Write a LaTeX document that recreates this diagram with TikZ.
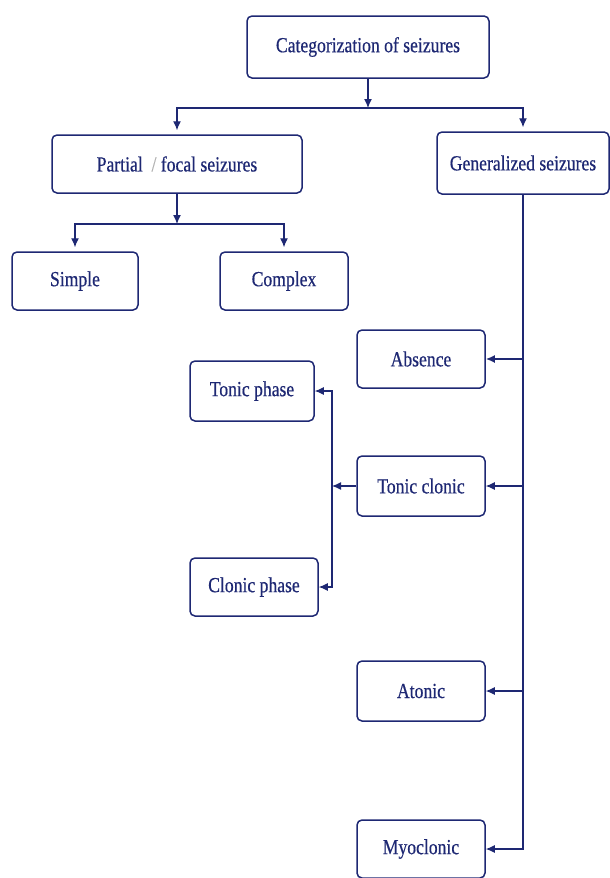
\documentclass[tikz,border=0pt]{standalone}
\usepackage{fontspec}
\setmainfont{Liberation Serif}[FakeStretch=0.82,FakeBold=0.5]
\usetikzlibrary{arrows.meta}
\definecolor{navy}{RGB}{30,40,115}

\begin{document}
\begin{tikzpicture}[x=1pt,y=-1pt,
  box/.style={draw=navy, line width=1.5pt, rounded corners=5pt, text=navy,
    font=\fontsize{21.5}{23}\selectfont, inner sep=0pt},
  arr/.style={draw=navy, line width=1.2pt, -{Latex[length=9pt,width=8pt]}}]
\useasboundingbox (0,0) rectangle (610,878);
\node [box, minimum width=242pt, minimum height=62pt] (cat) at (368,47) {Categorization of seizures};
\node [box, minimum width=250pt, minimum height=58pt] (partial) at (177,164) {Partial \ {\color{gray!60}/} focal seizures};
\node [box, minimum width=172pt, minimum height=62pt] (gen) at (523,163) {Generalized seizures};
\node [box, minimum width=126pt, minimum height=58pt] (simple) at (75,281) {Simple};
\node [box, minimum width=128pt, minimum height=58pt] (complex) at (284,281) {Complex};
\node [box, minimum width=128pt, minimum height=58pt] (absence) at (421,359) {Absence};
\node [box, minimum width=124pt, minimum height=60pt] (tphase) at (252,391) {Tonic phase};
\node [box, minimum width=128pt, minimum height=60pt] (tclonic) at (421,486) {Tonic clonic};
\node [box, minimum width=128pt, minimum height=58pt] (cphase) at (254,587) {Clonic phase};
\node [box, minimum width=128pt, minimum height=60pt] (atonic) at (421,691) {Atonic};
\node [box, minimum width=128pt, minimum height=58pt] (myo) at (421,849) {Myoclonic};
\coordinate (j1) at (368,108);
\coordinate (j2) at (177,224);
\coordinate (tj) at (332,486);
\draw [arr] (cat.south) -- (j1);
\draw [arr, shorten >=4pt] (j1) -| (partial.north);
\draw [arr, shorten >=4pt] (j1) -| (gen.north);
\draw [arr] (partial.south) -- (j2);
\draw [arr, shorten >=4pt] (j2) -| (simple.north);
\draw [arr, shorten >=4pt] (j2) -| (complex.north);
\draw [arr] (gen.south) |- (myo.east);
\draw [arr, line width=2.6pt] (gen.south |- absence.east) -- (absence.east);
\draw [arr] (gen.south |- tclonic.east) -- (tclonic.east);
\draw [arr] (gen.south |- atonic.east) -- (atonic.east);
\draw [arr] (tclonic.west) -- (tj);
\draw [arr] (tj) |- (tphase.east);
\draw [arr] (tj) |- (cphase.east);
\end{tikzpicture}
\end{document}
